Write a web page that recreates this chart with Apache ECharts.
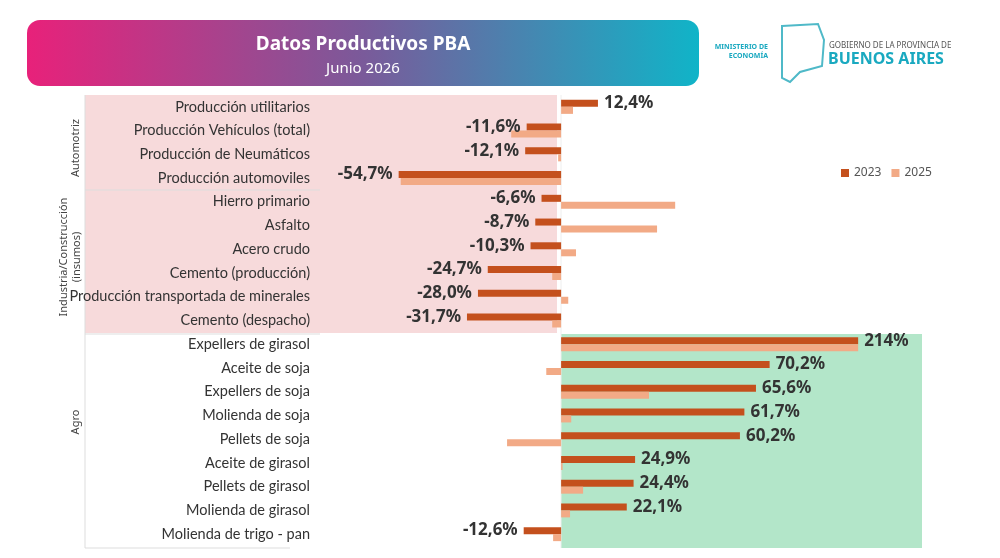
<!DOCTYPE html>
<html><head><meta charset="utf-8">
<script src="https://cdn.jsdelivr.net/npm/echarts@6/dist/echarts.min.js"></script>
<style>html,body{margin:0;padding:0;background:#fff}#c{width:1000px;height:558px}</style>
</head><body><div id="c"></div>
<script>
const categories = ["Producción utilitarios","Producción Vehículos (total)","Producción de Neumáticos","Producción automoviles","Hierro primario","Asfalto","Acero crudo","Cemento (producción)","Producción transportada de minerales","Cemento (despacho)","Expellers de girasol","Aceite de soja","Expellers de soja","Molienda de soja","Pellets de soja","Aceite de girasol","Pellets de girasol","Molienda de girasol","Molienda de trigo - pan"];
const values2023 = [12.4,-11.6,-12.1,-54.7,-6.6,-8.7,-10.3,-24.7,-28.0,-31.7,214,70.2,65.6,61.7,60.2,24.9,24.4,22.1,-12.6];
const values2025 = [4,-16.8,-1,-54,38.4,32.3,5,-3,2.4,-3,180,-5,29.6,3.4,-18.2,0.5,7.4,3,-2.7];
const CAP = 100;
const fmt = v => (v>=100? v.toFixed(0) : v.toFixed(1).replace('.', ',')) + '%';
const chart = echarts.init(document.getElementById('c'));
const ff = 'Noto Sans';
chart.setOption({
  animation:false,
  textStyle:{fontFamily:ff},
  legend:{data:['2023','2025'],left:836,top:162,itemWidth:8,itemHeight:8,itemGap:10,icon:'rect',textStyle:{fontSize:12,color:'#555',fontFamily:ff}},
  grid:{left:85,right:78,top:95,bottom:12},
  xAxis:{type:'value',min:-160.3,max:121.5,show:false},
  yAxis:{type:'category',data:categories,inverse:true,axisLine:{show:false},axisTick:{show:false},
    axisLabel:{margin:-225,fontSize:14.5,color:'#333',fontFamily:'Lato'}},
  graphic:[
    {type:'rect',shape:{x:85,y:95,width:472,height:238},style:{fill:'#f7dadb'},z:-10},
    {type:'rect',shape:{x:561,y:334,width:361,height:214},style:{fill:'#b3e6c9'},z:-10},
    {type:'line',shape:{x1:85,y1:95,x2:85,y2:548},style:{stroke:'#ddd',lineWidth:1}},
    {type:'line',shape:{x1:85,y1:190,x2:320,y2:190},style:{stroke:'#ddd',lineWidth:1}},
    {type:'line',shape:{x1:85,y1:334,x2:320,y2:334},style:{stroke:'#ddd',lineWidth:1}},
    {type:'line',shape:{x1:85,y1:548,x2:290,y2:548},style:{stroke:'#ddd',lineWidth:1}},
    {type:'line',shape:{x1:561,y1:95,x2:561,y2:548},style:{stroke:'#eee',lineWidth:1}},
    {type:'text',x:76,y:148,rotation:Math.PI/2,style:{text:'Automotriz',fontSize:11,fill:'#444',align:'center',verticalAlign:'middle',fontFamily:ff}},
    {type:'text',x:70,y:257,rotation:Math.PI/2,style:{text:'Industria/Construcción\n(insumos)',fontSize:11,fill:'#444',align:'center',verticalAlign:'middle',lineHeight:13,fontFamily:ff}},
    {type:'text',x:76,y:422,rotation:Math.PI/2,style:{text:'Agro',fontSize:11,fill:'#444',align:'center',verticalAlign:'middle',fontFamily:ff}},
    {type:'rect',shape:{x:27,y:20,width:672,height:66,r:13},style:{fill:new echarts.graphic.LinearGradient(0,0,1,0,[{offset:0,color:'#e8217a'},{offset:0.5,color:'#7a5a9a'},{offset:1,color:'#10b4c8'}])}},
    {type:'text',x:363,y:45,style:{text:'Datos Productivos PBA',fontSize:19,fontWeight:'bold',fill:'#fff',align:'center',verticalAlign:'middle',fontFamily:ff}},
    {type:'text',x:363,y:69,style:{text:'Junio 2026',fontSize:15,fill:'#fff',align:'center',verticalAlign:'middle',fontFamily:ff}},
    {type:'text',x:768,y:51,style:{text:'MINISTERIO DE\nECONOMÍA',fontSize:7,fontWeight:'bold',fill:'#1aa9c0',align:'right',verticalAlign:'middle',lineHeight:9,fontFamily:ff}},
    {type:'polygon',shape:{points:[[782,26],[818,24],[824,40],[822,66],[800,72],[790,82],[782,78]]},style:{fill:'none',stroke:'#4fb9c8',lineWidth:2}},
    {type:'text',x:829,y:46,style:{text:'GOBIERNO DE LA PROVINCIA DE',fontSize:8,fill:'#555',verticalAlign:'middle',fontFamily:ff}},
    {type:'text',x:828,y:59,style:{text:'BUENOS AIRES',fontSize:16,fontWeight:'bold',fill:'#1aa9c0',verticalAlign:'middle',fontFamily:ff}}
  ],
  series:[
    {name:'2023',type:'bar',barWidth:7,barGap:'0%',itemStyle:{color:'#c4501d'},
      data:values2023.map(v=>({value:Math.min(v,CAP),label:{show:true,position:v<0?'left':'right',formatter:()=>fmt(v)}})),
      label:{fontSize:17,fontWeight:'bold',color:'#333',distance:6,fontFamily:ff}},
    {name:'2025',type:'bar',barWidth:7,itemStyle:{color:'#f2aa86'},data:values2025.map(v=>Math.min(v,CAP))}
  ]
});
</script></body></html>
